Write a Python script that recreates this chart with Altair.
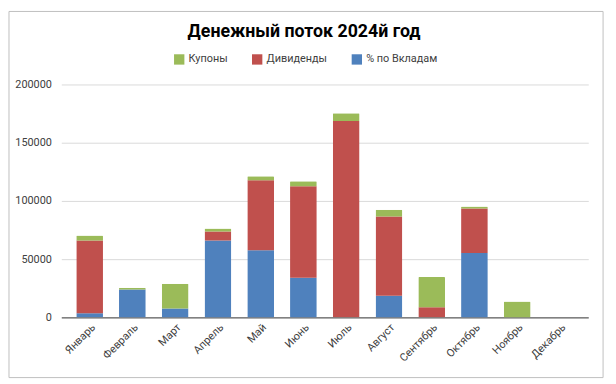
import altair as alt
import pandas as pd

months = ["Январь", "Февраль", "Март", "Апрель", "Май", "Июнь", "Июль",
          "Август", "Сентябрь", "Октябрь", "Ноябрь", "Декабрь"]
deposits = [3500, 24000, 7600, 66000, 57600, 34000, 0, 18600, 0, 55300, 0, 0]
dividends = [62500, 0, 0, 7700, 60200, 78700, 168600, 68100, 8700, 38200, 0, 0]
coupons = [4300, 1500, 21300, 2600, 3400, 4300, 6800, 5700, 26000, 1700, 13600, 0]

series = ["Купоны", "Дивиденды", "% по Вкладам"]
colors = ["#9BBB59", "#C0504D", "#4F81BD"]
title_text = "Денежный поток 2024й год"

rows = []
for i, m in enumerate(months):
    rows.append({"month": m, "series": "% по Вкладам", "value": deposits[i], "ord": 0})
    rows.append({"month": m, "series": "Дивиденды", "value": dividends[i], "ord": 1})
    rows.append({"month": m, "series": "Купоны", "value": coupons[i], "ord": 2})
df = pd.DataFrame(rows)

FONT = "Roboto"

bars = alt.Chart(df).mark_bar(cornerRadius=1).encode(
    x=alt.X("month:N", sort=months, title=None,
            scale=alt.Scale(paddingInner=0.375, paddingOuter=0.35),
            axis=alt.Axis(labelAngle=-45, labelFontSize=11, labelColor="#404040",
                          domainColor="#404040", ticks=False, labelPadding=4,
                          labelFont=FONT)),
    y=alt.Y("value:Q", stack="zero", title=None,
            scale=alt.Scale(domain=[0, 200000]),
            axis=alt.Axis(values=[0, 50000, 100000, 150000, 200000], format="d",
                          labelFontSize=11, labelColor="#404040", domain=False,
                          ticks=False, gridColor="#D9D9D9", labelPadding=10,
                          labelFont=FONT)),
    color=alt.Color("series:N",
                    scale=alt.Scale(domain=series, range=colors),
                    legend=alt.Legend(title=None, orient="none", direction="horizontal",
                                      legendX=114, legendY=-31, symbolType="square",
                                      symbolSize=110, symbolStrokeWidth=0,
                                      labelFontSize=11, labelColor="#404040",
                                      labelFont=FONT, columnPadding=24)),
    order=alt.Order("ord:Q", sort="ascending"),
)

frame = alt.Chart(pd.DataFrame({"a": [0]})).mark_rect(
    fill=None, stroke="#BFBFBF", strokeWidth=1, clip=False
).encode(x=alt.value(-53), x2=alt.value(549), y=alt.value(-74), y2=alt.value(297))

title = alt.Chart(pd.DataFrame({"t": [title_text]})).mark_text(
    font=FONT, fontSize=18, fontWeight="bold", color="#000000",
    align="center", baseline="middle", clip=False
).encode(text="t:N", x=alt.value(246), y=alt.value(-53))

chart = alt.layer(frame, title, bars).properties(
    width=534, height=236,
    padding={"left": 54, "top": 75, "right": 20, "bottom": 65},
    autosize=alt.AutoSizeParams(type="none"),
).configure_view(stroke=None)

chart.save("out.html", embed_options={"renderer": "svg", "actions": False})
